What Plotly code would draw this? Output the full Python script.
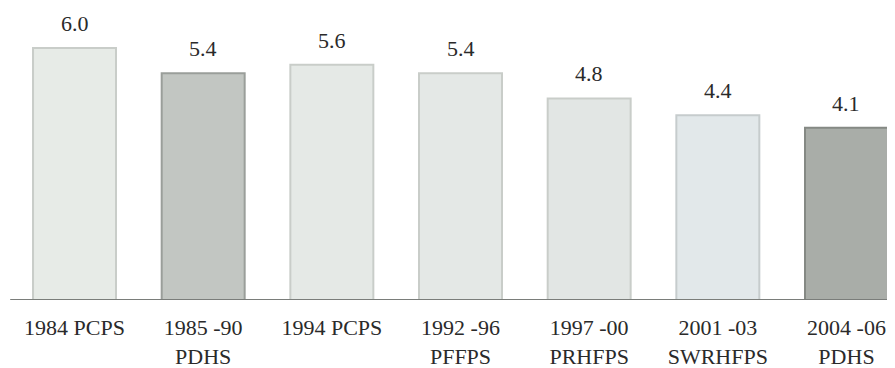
import plotly.graph_objects as go

categories = ["1984 PCPS", "1985 -90<br>PDHS", "1994 PCPS", "1992 -96<br>PFFPS",
              "1997 -00<br>PRHFPS", "2001 -03<br>SWRHFPS", "2004 -06<br>PDHS"]
values = [6.0, 5.4, 5.6, 5.4, 4.8, 4.4, 4.1]
value_labels = ["6.0", "5.4", "5.6", "5.4", "4.8", "4.4", "4.1"]
bar_colors = ["#e7ebe7", "#c2c6c2", "#e5e9e6", "#e4e8e6", "#e2e6e4", "#e2e8ea", "#a9ada8"]
edge_colors = ["#c9cdc9", "#9a9e9a", "#c9cdc9", "#c9cdc9", "#c9cdc9", "#c6cccd", "#858984"]

font = "Liberation Serif, Times New Roman, serif"

fig = go.Figure()
fig.add_trace(go.Bar(
    x=categories, y=values,
    marker=dict(color=bar_colors, line=dict(color=edge_colors, width=2)),
    width=0.645,
    hoverinfo="skip",
))

for c, v, t in zip(categories, values, value_labels):
    fig.add_annotation(x=c, y=v, text=t, showarrow=False, yanchor="bottom",
                       yshift=10, font=dict(family=font, size=22, color="#2a2a2a"))

fig.add_shape(type="line", xref="x", yref="y", x0=-0.5, x1=6.6, y0=0, y1=0,
              line=dict(color="#7a7d7a", width=2))

fig.update_layout(
    width=887, height=360,
    margin=dict(l=0, r=0, t=0, b=68),
    paper_bgcolor="white", plot_bgcolor="white",
    showlegend=False,
    font=dict(family=font, size=22, color="#2a2a2a"),
    xaxis=dict(range=[-0.517, 6.377], showgrid=False, showline=False, zeroline=False,
               ticks="outside", ticklen=8, tickcolor="rgba(0,0,0,0)",
               tickfont=dict(family=font, size=22, color="#2a2a2a")),
    yaxis=dict(range=[0, 6.952], visible=False, showgrid=False, zeroline=False),
)

fig.write_html("out.html")
